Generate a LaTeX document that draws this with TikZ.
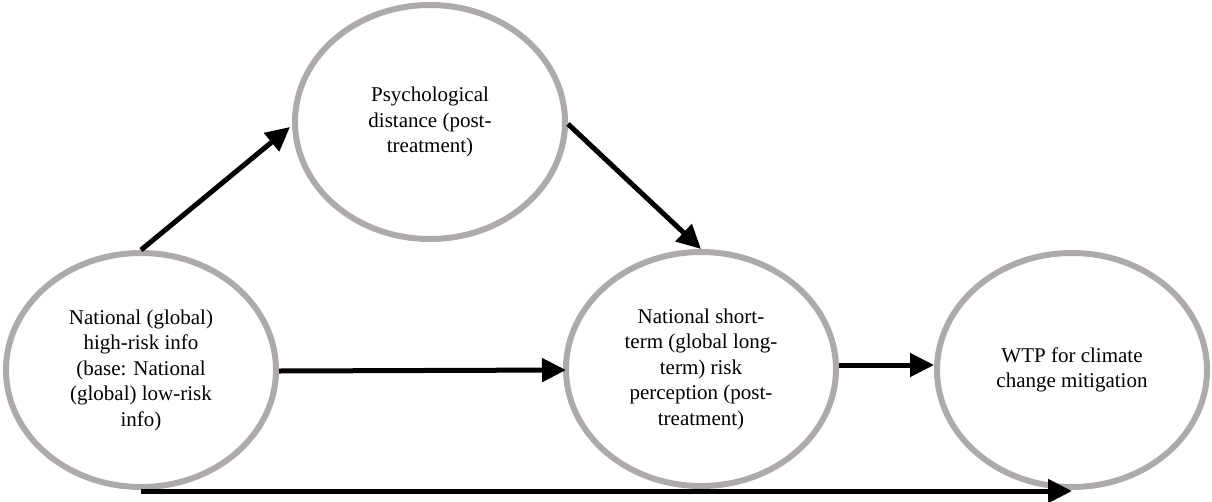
\documentclass[tikz,border=0pt]{standalone}
\usepackage{fontspec}
\setmainfont{Liberation Serif}
\usetikzlibrary{shapes.geometric,arrows.meta}
\definecolor{ringgray}{RGB}{174,170,170}
\begin{document}
\begin{tikzpicture}[x=1pt,y=-1pt,
  ring/.style={ellipse,draw=ringgray,line width=6pt,fill=white,minimum width=270pt,minimum height=234pt,inner sep=0pt,align=center,font=\fontsize{21}{25.5}\selectfont},
  link/.style={line width=5pt,-{Triangle[length=24pt,width=23pt]}}]
\useasboundingbox (0,0) rectangle (1212,501);
\node[ring] (l) at (141,370) {National (global)\\high-risk info\\(base: National\\(global) low-risk\\info)};
\node[ring] (p) at (430,122) {Psychological\\distance (post-\\treatment)};
\node[ring] (m) at (701,369) {National short-\\term (global long-\\term) risk\\perception (post-\\treatment)};
\node[ring] (w) at (1072,370) {WTP for climate\\change mitigation};
\draw[link] (l.north) -- ([yshift=-5pt,xshift=-2pt]p.west);
\draw[link] ([yshift=-2pt]p.east) -- (m.north);
\draw[link] ([yshift=-1pt]l.east) -- ([yshift=-1pt,xshift=3pt]m.west);
\draw[link] ([yshift=4pt]m.east) -- ([yshift=5pt]w.west);
\draw[link] ([yshift=-1pt]l.south) -- ([yshift=-1pt]w.south);
\end{tikzpicture}
\end{document}
